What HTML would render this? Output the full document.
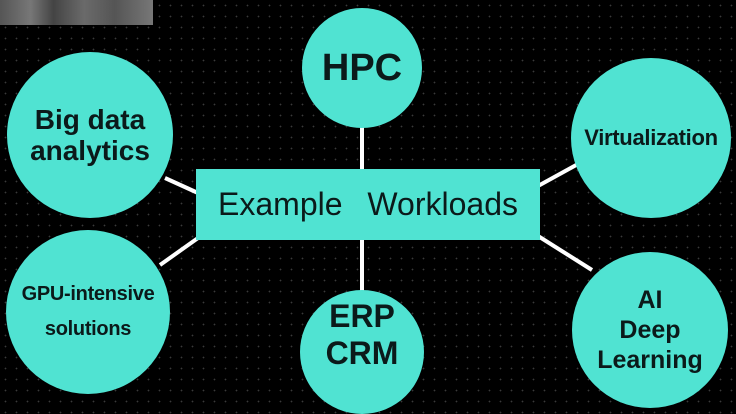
<!DOCTYPE html>
<html><head><style>
html,body{margin:0;padding:0}
body{width:736px;height:407px;overflow:hidden;background:#000;
background-image:radial-gradient(circle,#3a3a3a 0.7px,transparent 1px);background-size:11px 11px;position:relative;font-family:"Liberation Sans",sans-serif}
.c{position:absolute;border-radius:50%;background:#50e3d2;display:flex;align-items:center;justify-content:center;text-align:center;font-weight:bold;color:#0b1a1a;line-height:1.12}
.logo{position:absolute;left:0;top:0;width:153px;height:25px;background:linear-gradient(90deg,#555,#777 20%,#444 35%,#6a6a6a 55%,#555 75%,#777);}
</style></head><body>
<div class="logo"></div>
<svg width="736" height="407" style="position:absolute;left:0;top:0">
<g stroke="#fff" stroke-width="4">
<line x1="362" y1="120" x2="362" y2="170"/>
<line x1="362" y1="240" x2="362" y2="295"/>
<line x1="165" y1="178" x2="198" y2="193"/>
<line x1="160" y1="265" x2="198" y2="238"/>
<line x1="538" y1="186" x2="578" y2="164"/>
<line x1="538" y1="236" x2="592" y2="270"/>
</g></svg>
<div class="c" style="left:302px;top:8px;width:120px;height:120px;font-size:38px">HPC</div>
<div class="c" style="left:7px;top:52px;width:166px;height:166px;font-size:28px">Big data<br>analytics</div>
<div class="c" style="left:571px;top:58px;width:160px;height:160px;font-size:22px;letter-spacing:-0.3px">Virtualization</div>
<div class="c" style="left:6px;top:230px;width:164px;height:164px;font-size:20px;line-height:1.75;letter-spacing:-0.3px">GPU-intensive<br>solutions</div>
<div class="c" style="left:300px;top:290px;width:124px;height:124px;font-size:32px;align-items:flex-start"><div style="margin-top:8px;line-height:1.15">ERP<br>CRM</div></div>
<div class="c" style="left:572px;top:252px;width:156px;height:156px;font-size:25px;line-height:1.2">AI<br>Deep<br>Learning</div>
<div style="position:absolute;left:196px;top:169px;width:344px;height:71px;background:#50e3d2;color:#0b1a1a;font-size:32px;display:flex;align-items:center;justify-content:center;word-spacing:16px">Example Workloads</div>
</body></html>
